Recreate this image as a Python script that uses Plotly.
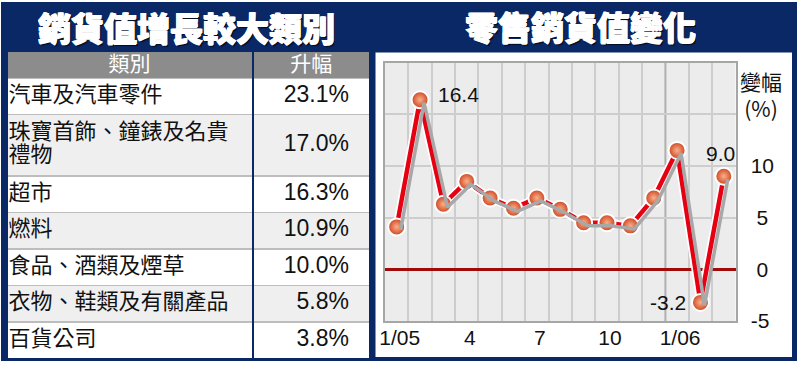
import plotly.graph_objects as go

# ---------------- data ----------------
table_headers = ["類別", "升幅"]
categories = ["汽車及汽車零件", "珠寶首飾、鐘錶及名貴<br>禮物", "超市", "燃料",
              "食品、酒類及煙草", "衣物、鞋類及有關產品", "百貨公司"]
increases = [23.1, 17.0, 16.3, 10.9, 10.0, 5.8, 3.8]

months = ["1/05", "2", "3", "4", "5", "6", "7", "8", "9", "10", "11", "12", "1/06", "2", "3"]
sales_change = [4.1, 16.4, 6.3, 8.5, 6.9, 5.9, 6.9, 5.8, 4.5, 4.5, 4.2, 6.9, 11.5, -3.2, 9.0]
shown_tick_positions = [0, 3, 6, 9, 12]          # indices of months that carry a label
y_tickvals = [-5, 0, 5, 10, 15, 20]
y_ticktext = ["-5", "\u00a00", "\u00a05", "10", "", ""]

# ---------------- style ----------------
W, H = 801, 366
NAVY = "#0a2766"
NUM_FONT = "Liberation Sans, Arial, sans-serif"
CJK_FONT = "Noto Sans CJK TC, Noto Sans CJK SC, sans-serif"
TXT = "#111111"

fig = go.Figure()

# ---------------- table (drawn on its own cartesian axes, pixel-like units) ----------------
header_h = 26
base_row_h = 36.5
extra_line_h = 24.8
text_line_gap = 23.3
cat_lines = [c.split("<br>") for c in categories]
row_h = [base_row_h + extra_line_h * (len(ls) - 1) for ls in cat_lines]
row_c = []
acc = header_h
for h in row_h:
    row_c.append(acc + h / 2)
    acc += h
body_h = sum(row_h)
total_h = header_h + body_h
tab_top = 52
col_x0 = [0, 246]
col_x1 = [244, 361.5]
row_fill = ["#ffffff" if i % 2 == 0 else "#efefef" for i in range(len(categories))]
nrow = len(categories)

for c in range(2):
    cw = col_x1[c] - col_x0[c]
    fig.add_trace(go.Bar(orientation="h", y=[header_h + body_h / 2], x=[cw], base=[col_x0[c]],
                         width=[body_h], marker=dict(color="#bdbdbd", line=dict(width=0)),
                         xaxis="x3", yaxis="y3", hoverinfo="skip"))
    fig.add_trace(go.Bar(orientation="h", y=[header_h / 2], x=[cw], base=[col_x0[c]],
                         width=[header_h], marker=dict(color="#8c8c8c", line=dict(width=0)),
                         xaxis="x3", yaxis="y3", hoverinfo="skip"))
    fig.add_trace(go.Bar(orientation="h", y=row_c, x=[cw] * nrow, base=[col_x0[c]] * nrow,
                         width=[h - 1.5 for h in row_h], marker=dict(color=row_fill, line=dict(width=0)),
                         xaxis="x3", yaxis="y3", hoverinfo="skip"))

fig.add_trace(go.Scatter(x=[(col_x0[i] + col_x1[i]) / 2 for i in range(2)], y=[header_h / 2 + 0.5] * 2,
                         text=table_headers, mode="text", textposition="middle center",
                         textfont=dict(family=CJK_FONT, size=21, color="white"),
                         xaxis="x3", yaxis="y3", hoverinfo="skip", cliponaxis=False))
line_txt, line_y = [], []
for ls, yc in zip(cat_lines, row_c):
    for j, s in enumerate(ls):
        line_txt.append(s)
        line_y.append(yc + (j - (len(ls) - 1) / 2) * text_line_gap)
fig.add_trace(go.Scatter(x=[col_x0[0] + 1] * len(line_txt), y=line_y, text=line_txt, mode="text",
                         textposition="middle right",
                         textfont=dict(family=CJK_FONT, size=22, color=TXT),
                         xaxis="x3", yaxis="y3", hoverinfo="skip", cliponaxis=False))
fig.add_trace(go.Scatter(x=[col_x1[1] - 20] * nrow, y=row_c, text=[f"{v:.1f}%" for v in increases],
                         mode="text", textposition="middle left",
                         textfont=dict(family=NUM_FONT, size=23, color=TXT),
                         xaxis="x3", yaxis="y3", hoverinfo="skip", cliponaxis=False))

# ---------------- line chart ----------------
plot_x0, plot_x1 = 385, 735.5
plot_y0, plot_y1 = 62.5, 321
x_idx = list(range(1, len(months) + 1))
major_ticks = [x_idx[i] for i in shown_tick_positions]
major_text = [months[i] for i in shown_tick_positions]
px_per_x = (plot_x1 - plot_x0) / len(months)
px_per_y = (plot_y1 - plot_y0) / (y_tickvals[-1] - y_tickvals[0])
shadow_dx = 4 / px_per_x
shadow_dy = 3 / px_per_y

fig.add_trace(go.Scatter(x=x_idx, y=sales_change, mode="lines", xaxis="x2", yaxis="y2",
                         line=dict(color="#a8a8a8", width=3.5), hoverinfo="skip"))
fig.add_trace(go.Scatter(x=x_idx, y=sales_change, mode="lines",
                         line=dict(color="white", width=8), hoverinfo="skip"))
fig.add_trace(go.Scatter(x=x_idx, y=sales_change, mode="lines+markers",
                         line=dict(color="#e60012", width=4.5),
                         marker=dict(size=17, color="#cc4420",
                                     gradient=dict(type="radial", color="#fbb08a"),
                                     line=dict(color="white", width=2)),
                         cliponaxis=False, hoverinfo="skip"))

# value labels (max, min, last)
i_max = sales_change.index(max(sales_change))
i_min = sales_change.index(min(sales_change))
i_last = len(sales_change) - 1
lab_font = dict(family=NUM_FONT, size=21, color=TXT)
fig.add_annotation(x=x_idx[i_max], y=sales_change[i_max], text=f"{sales_change[i_max]:.1f}",
                   showarrow=False, xanchor="left", yanchor="middle", xshift=16, yshift=5, font=lab_font)
fig.add_annotation(x=x_idx[i_min], y=sales_change[i_min], text=f"{sales_change[i_min]:.1f}",
                   showarrow=False, xanchor="right", yanchor="middle", xshift=-12, yshift=0, font=lab_font)
fig.add_annotation(x=x_idx[i_last], y=sales_change[i_last], text=f"{sales_change[i_last]:.1f}",
                   showarrow=False, xanchor="center", yanchor="bottom", xshift=-3, yshift=9, font=lab_font)

# unit label
fig.add_annotation(xref="paper", yref="paper", x=761 / W, y=1 - 95 / H, text="變幅<br>(%)",
                   showarrow=False, xanchor="center", yanchor="middle",
                   font=dict(family=CJK_FONT, size=21, color=TXT))

# titles
title_font = dict(family=CJK_FONT, size=33, color="white", weight=900,
                  shadow="0.7px 0 0 #fff, -0.7px 0 0 #fff, 0 0.7px 0 #fff, 1.5px 1.5px 1px rgba(0,0,0,0.7)")
fig.add_annotation(xref="paper", yref="paper", x=186 / W, y=1 - 27 / H, text="銷貨值增長較大類別",
                   showarrow=False, xanchor="center", yanchor="middle", height=42, font=title_font)
fig.add_annotation(xref="paper", yref="paper", x=580 / W, y=1 - 26 / H, text="零售銷貨值變化",
                   showarrow=False, xanchor="center", yanchor="middle", height=42, font=title_font)

# decorative panels
fig.add_shape(type="rect", xref="paper", yref="paper", x0=1 / W, x1=797 / W, y0=1 - 361 / H, y1=1 - 2 / H,
              fillcolor=NAVY, line=dict(width=0), layer="below")
fig.add_shape(type="rect", xref="paper", yref="paper", x0=375.5 / W, x1=792 / W, y0=1 - 357 / H, y1=1 - 52.5 / H,
              fillcolor="white", line=dict(width=0), layer="below")
fig.add_shape(type="rect", xref="x domain", yref="y domain", x0=0, x1=1, y0=0, y1=1,
              fillcolor="#ececec", line=dict(width=0), layer="below")
year_boundary = months.index("1/06") + 0.5
fig.add_shape(type="line", xref="x", yref="y domain", x0=year_boundary, x1=year_boundary, y0=0, y1=1,
              line=dict(color="#b0b0b0", width=2), layer="below")

x_range = [0.5, len(months) + 0.5]
y_range = [y_tickvals[0], y_tickvals[-1]]
minor_grid = [i + 0.5 for i in range(len(months) + 1) if i + 0.5 != year_boundary]
fig.update_layout(
    width=W, height=H, margin=dict(l=0, r=0, t=0, b=0, autoexpand=False),
    paper_bgcolor="white", plot_bgcolor="rgba(0,0,0,0)", showlegend=False, hovermode=False,
    barmode="overlay", bargap=0,
    xaxis=dict(domain=[plot_x0 / W, plot_x1 / W], range=x_range, tickmode="array",
               tickvals=major_ticks, ticktext=major_text, showgrid=False, zeroline=False,
               ticks="", ticklabelstandoff=-3, ticklabelshift=3, automargin=False,
               minor=dict(tickvals=minor_grid, showgrid=True, gridcolor="#cdcdcd", gridwidth=2, ticks=""),
               showline=True, mirror=True, linecolor="#a6a6a6", linewidth=2,
               tickfont=dict(family=NUM_FONT, size=21, color=TXT), fixedrange=True),
    yaxis=dict(domain=[1 - plot_y1 / H, 1 - plot_y0 / H], range=y_range, side="right",
               tickmode="array", tickvals=y_tickvals, ticktext=y_ticktext, automargin=False,
               showgrid=True, gridcolor="#cdcdcd", gridwidth=2,
               zeroline=True, zerolinecolor="#a00a0a", zerolinewidth=2.5,
               ticks="", ticklabelstandoff=9,
               showline=True, mirror=True, linecolor="#a6a6a6", linewidth=2,
               tickfont=dict(family=NUM_FONT, size=21, color=TXT), fixedrange=True),
    xaxis2=dict(overlaying="x", range=[x_range[0] - shadow_dx, x_range[1] - shadow_dx],
                visible=False, fixedrange=True, anchor="y2"),
    yaxis2=dict(overlaying="y", range=[y_range[0] + shadow_dy, y_range[1] + shadow_dy],
                visible=False, fixedrange=True, anchor="x2"),
    xaxis3=dict(domain=[7.5 / W, 369 / W], range=[0, col_x1[1]], visible=False,
                fixedrange=True, anchor="y3"),
    yaxis3=dict(domain=[1 - (tab_top + total_h) / H, 1 - tab_top / H], range=[total_h, 0],
                visible=False, fixedrange=True, anchor="x3"),
)

fig.write_html("out.html", config={"displayModeBar": False, "staticPlot": True},
               post_script="document.body.style.margin='0';document.body.style.overflow='hidden';")
